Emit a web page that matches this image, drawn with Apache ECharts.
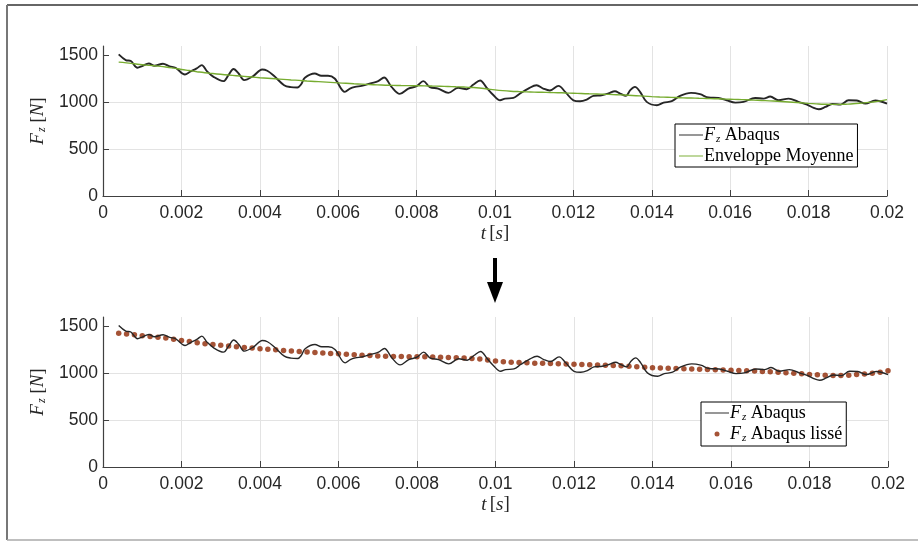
<!DOCTYPE html>
<html>
<head>
<meta charset="utf-8">
<script src="https://cdn.jsdelivr.net/npm/echarts@6/dist/echarts.min.js"></script>
<style>
  html, body { margin: 0; padding: 0; background: #fff; }
  #chart { width: 918px; height: 541px; }
</style>
</head>
<body>
<div id="chart"></div>
<script>
// F_z Abaqus (brut)
var tAbaqus = [0.0004, 0.00058, 0.00071, 0.00088, 0.0010, 0.00117, 0.00131, 0.00153, 0.0017, 0.00185,
  0.00209, 0.00222, 0.00239, 0.00252, 0.00265, 0.00282, 0.00307, 0.0032, 0.00333, 0.00346,
  0.0036, 0.00384, 0.00406, 0.00419, 0.00436, 0.00462, 0.00479, 0.00496, 0.00505, 0.00515,
  0.0054, 0.00557, 0.00574, 0.00591, 0.00617, 0.0063, 0.00643, 0.0066, 0.00685, 0.00702,
  0.00717, 0.00736, 0.00757, 0.00779, 0.0080, 0.00817, 0.00834, 0.00855, 0.00881, 0.00906,
  0.00928, 0.00945, 0.00962, 0.00979, 0.00995, 0.01013, 0.01026, 0.01047, 0.01064, 0.01085,
  0.01106, 0.01123, 0.0114, 0.01162, 0.01179, 0.0120, 0.01217, 0.01234, 0.01251, 0.01272,
  0.01289, 0.01306, 0.01319, 0.01334, 0.01345, 0.01357, 0.0137, 0.01387, 0.01413, 0.0143,
  0.01451, 0.01472, 0.0150, 0.01523, 0.01545, 0.0157, 0.01591, 0.01613, 0.01634, 0.01664,
  0.01685, 0.01702, 0.01723, 0.01749, 0.01774, 0.01796, 0.01813, 0.01826, 0.01843, 0.0186,
  0.01881, 0.01902, 0.01923, 0.01945, 0.0197, 0.0200];
var fAbaqus = [1510, 1450, 1440, 1368, 1386, 1414, 1389, 1411, 1382, 1368,
  1296, 1325, 1361, 1396, 1332, 1271, 1225, 1289, 1354, 1307,
  1236, 1282, 1350, 1336, 1282, 1182, 1161, 1157, 1189, 1261,
  1307, 1282, 1282, 1254, 1111, 1146, 1164, 1175, 1204, 1225,
  1264, 1164, 1089, 1146, 1171, 1225, 1161, 1146, 1100, 1154,
  1139, 1189, 1232, 1154, 1080, 1021, 1039, 1046, 1093, 1146,
  1182, 1146, 1125, 1175, 1111, 1021, 1011, 1029, 1068, 1075,
  1093, 1118, 1093, 1068, 1129, 1164, 1111, 1004, 968, 996,
  1011, 1068, 1100, 1086, 1050, 1046, 1021, 996, 1004, 1046,
  1039, 1061, 1021, 1039, 1004, 975, 939, 925, 950, 982,
  975, 1021, 1018, 986, 1018, 986];

// enveloppe moyenne / F_z lissé
var tLisse = [0.0004, 0.0006, 0.0008, 0.0010, 0.0012, 0.0014, 0.0016, 0.0018, 0.0020, 0.0022,
  0.0024, 0.0026, 0.0028, 0.0030, 0.0032, 0.0034, 0.0036, 0.0038, 0.0040, 0.0042,
  0.0044, 0.0046, 0.0048, 0.0050, 0.0052, 0.0054, 0.0056, 0.0058, 0.0060, 0.0062,
  0.0064, 0.0066, 0.0068, 0.0070, 0.0072, 0.0074, 0.0076, 0.0078, 0.0080, 0.0082,
  0.0084, 0.0086, 0.0088, 0.0090, 0.0092, 0.0094, 0.0096, 0.0098, 0.0100, 0.0102,
  0.0104, 0.0106, 0.0108, 0.0110, 0.0112, 0.0114, 0.0116, 0.0118, 0.0120, 0.0122,
  0.0124, 0.0126, 0.0128, 0.0130, 0.0132, 0.0134, 0.0136, 0.0138, 0.0140, 0.0142,
  0.0144, 0.0146, 0.0148, 0.0150, 0.0152, 0.0154, 0.0156, 0.0158, 0.0160, 0.0162,
  0.0164, 0.0166, 0.0168, 0.0170, 0.0172, 0.0174, 0.0176, 0.0178, 0.0180, 0.0182,
  0.0184, 0.0186, 0.0188, 0.0190, 0.0192, 0.0194, 0.0196, 0.0198, 0.0200];
var fLisse = [1428, 1420, 1410, 1400, 1393, 1385, 1376, 1364, 1350, 1338,
  1326, 1315, 1306, 1298, 1290, 1283, 1276, 1269, 1262, 1256,
  1250, 1244, 1238, 1233, 1227, 1222, 1217, 1212, 1207, 1202,
  1197, 1193, 1189, 1185, 1182, 1180, 1178, 1177, 1176, 1175,
  1173, 1171, 1168, 1165, 1162, 1158, 1152, 1142, 1132, 1124,
  1118, 1114, 1111, 1108, 1106, 1104, 1102, 1099, 1096, 1093,
  1090, 1088, 1085, 1082, 1079, 1075, 1070, 1065, 1060, 1056,
  1053, 1050, 1047, 1045, 1042, 1040, 1038, 1035, 1032, 1029,
  1026, 1023, 1019, 1015, 1011, 1006, 1000, 994, 988, 983,
  979, 977, 977, 980, 986, 993, 1001, 1012, 1028];

var yTicks = [0, 500, 1000, 1500];

function pairs(xs, ys) {
  return xs.map(function (x, i) { return [x, ys[i]]; });
}

var txt = '#262626';
var serif = 'Liberation Serif';
var sans = 'Arial, Liberation Sans';
var mathRich = {
  i: { fontFamily: serif, fontStyle: 'italic', fontSize: 19, color: txt },
  s: { fontFamily: serif, fontStyle: 'italic', fontSize: 12, color: txt, padding: [9, 0, 0, 1] },
  r: { fontFamily: serif, fontSize: 19, color: txt }
};
var legRich = {
  i: { fontFamily: serif, fontStyle: 'italic', fontSize: 18, color: '#000' },
  s: { fontFamily: serif, fontStyle: 'italic', fontSize: 11, color: '#000', padding: [9, 0, 0, 1] }
};
var lineIcon = 'path://M0,0L40,0L40,1.6L0,1.6Z';

function xAxisCfg(idx) {
  return {
    type: 'value', gridIndex: idx, min: 0, max: 0.02, interval: 0.002,
    name: '{i|t} {r|[}{i|s}{r|]}', nameLocation: 'middle', nameGap: 28,
    nameTextStyle: { rich: mathRich },
    axisLine: { lineStyle: { color: '#404040', width: 1.2 } },
    axisTick: { inside: true, length: 6, lineStyle: { color: '#404040' } },
    axisLabel: { color: txt, fontFamily: sans, fontSize: 17.5, margin: 8 },
    splitLine: { show: true, lineStyle: { color: '#e3e3e3', width: 1 } }
  };
}
function yAxisCfg(idx) {
  return {
    type: 'value', gridIndex: idx, min: 0, max: 1600, interval: 500,
    name: '{i|F}{s|z}{r| [}{i|N}{r|]}', nameLocation: 'middle', nameGap: 53, nameRotate: 90,
    nameTextStyle: { rich: mathRich },
    axisLine: { show: true, lineStyle: { color: '#404040', width: 1.2 } },
    axisTick: { show: true, inside: true, length: 6, customValues: yTicks, lineStyle: { color: '#404040' } },
    axisLabel: {
      color: txt, fontFamily: sans, fontSize: 17.5, margin: 5, customValues: yTicks,
      formatter: function (v) { return String(v); }
    },
    splitLine: { show: true, showMaxLine: false, lineStyle: { color: '#e3e3e3', width: 1 } }
  };
}

var legendBase = {
  orient: 'vertical',
  backgroundColor: '#fff', borderColor: '#000', borderWidth: 1, borderRadius: 0,
  itemWidth: 24, itemHeight: 5, itemGap: 2,
  padding: [2, 4, 2, 4],
  textStyle: { fontFamily: serif, fontSize: 18, color: '#000', padding: [0, 0, 0, -4], rich: legRich },
  formatter: function (name) {
    if (name === 'Fz Abaqus') return '{i|F}{s|z} Abaqus';
    if (name === 'Fz Abaqus lissé') return '{i|F}{s|z} Abaqus lissé';
    return name;
  },
  selectedMode: false
};

var chart = echarts.init(document.getElementById('chart'));
chart.setOption({
  backgroundColor: '#fff',
  animation: false,
  grid: [
    { left: 103, right: 31, top: 46, bottom: 345 },
    { left: 103, right: 30, top: 317, bottom: 74 }
  ],
  xAxis: [xAxisCfg(0), xAxisCfg(1)],
  yAxis: [yAxisCfg(0), yAxisCfg(1)],
  legend: [
    Object.assign({}, legendBase, {
      left: 675, top: 124,
      data: [{ name: 'Fz Abaqus', icon: lineIcon }, { name: 'Enveloppe Moyenne', icon: lineIcon }]
    }),
    Object.assign({}, legendBase, {
      left: 701, top: 402,
      data: [{ name: 'Fz Abaqus', icon: lineIcon }, { name: 'Fz Abaqus lissé', icon: 'circle' }]
    })
  ],
  series: [
    {
      name: 'Fz Abaqus', type: 'line', xAxisIndex: 0, yAxisIndex: 0,
      data: pairs(tAbaqus, fAbaqus), smooth: 0.35, symbol: 'none',
      lineStyle: { color: '#262626', width: 1.9 }, itemStyle: { color: '#262626' }
    },
    {
      name: 'Enveloppe Moyenne', type: 'line', xAxisIndex: 0, yAxisIndex: 0,
      data: pairs(tLisse, fLisse), smooth: true, symbol: 'none',
      lineStyle: { color: '#77ac30', width: 1.4 }, itemStyle: { color: '#77ac30' }
    },
    {
      name: 'Fz Abaqus', type: 'line', xAxisIndex: 1, yAxisIndex: 1,
      data: pairs(tAbaqus, fAbaqus), smooth: 0.35, symbol: 'none',
      lineStyle: { color: '#262626', width: 1.4 }, itemStyle: { color: '#262626' }
    },
    {
      name: 'Fz Abaqus lissé', type: 'scatter', xAxisIndex: 1, yAxisIndex: 1,
      data: pairs(tLisse, fLisse), symbol: 'circle', symbolSize: 5.5,
      itemStyle: { color: '#8f2804' }
    }
  ],
  graphic: [
    { type: 'line', shape: { x1: 7, y1: 5, x2: 918, y2: 5 }, style: { stroke: '#333', lineWidth: 1.5 } },
    { type: 'line', shape: { x1: 7, y1: 5, x2: 7, y2: 540 }, style: { stroke: '#777', lineWidth: 2 } },
    { type: 'line', shape: { x1: 7, y1: 540, x2: 918, y2: 540 }, style: { stroke: '#aaa', lineWidth: 1.5 } },
    { type: 'line', shape: { x1: 495, y1: 258, x2: 495, y2: 288 }, style: { stroke: '#000', lineWidth: 4 } },
    { type: 'polygon', shape: { points: [[487, 282], [503, 282], [495, 303]] }, style: { fill: '#000' } }
  ]
});
</script>
</body>
</html>
